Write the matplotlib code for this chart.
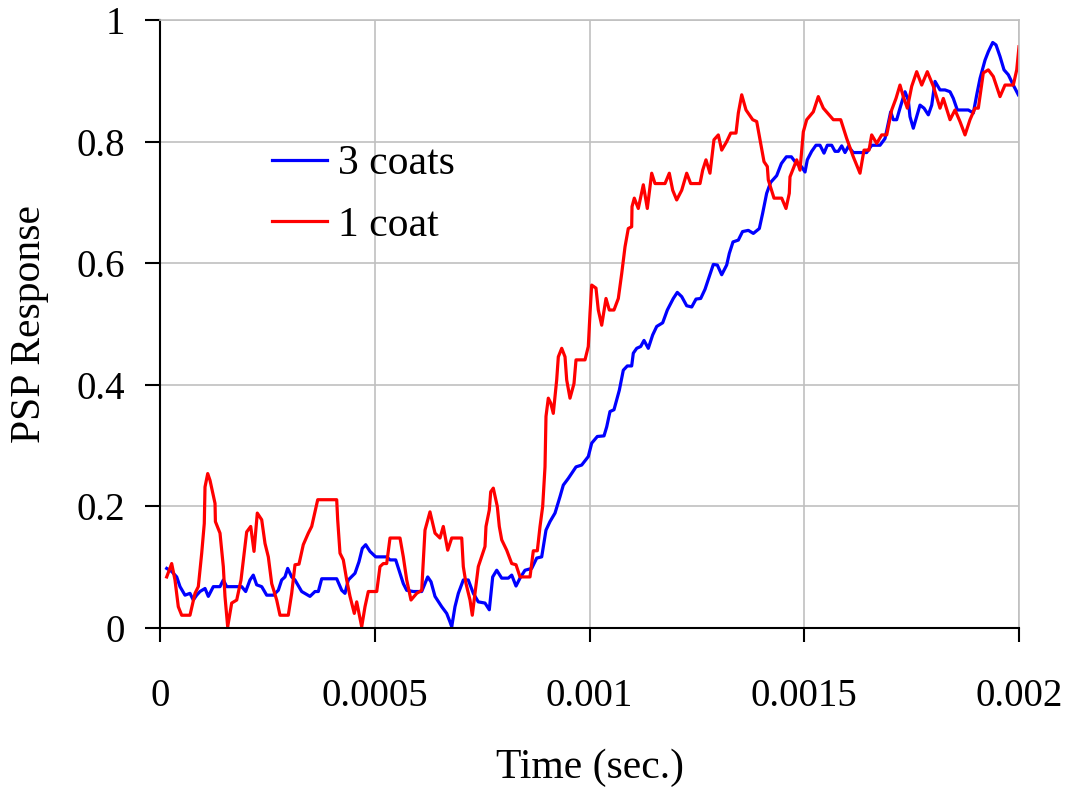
#!/usr/bin/env python3
"""PSP response vs time for 1 coat and 3 coats."""

import matplotlib
matplotlib.use("Agg")
import matplotlib.pyplot as plt
import numpy as np

# --- data (time in microseconds) ---
t_3coats_us = [
    15.6, 27.2, 38.9, 46.6, 58.2, 69.8, 77.5, 85.4, 93.1, 104.8, 112.5, 124.1,
    139.7, 147.4, 155.3, 190.2, 199.5, 209.5, 217.2, 225.1, 236.8, 248.4, 263.8,
    275.4, 283.3, 291.0, 297.3, 306.6, 314.3, 329.9, 349.2, 360.9, 368.6, 376.5,
    411.4, 423.1, 430.7, 438.4, 454.0, 463.3, 471.0, 478.9, 488.9, 502.2, 527.8,
    535.5, 548.8, 556.5, 566.5, 574.4, 589.8, 609.3, 617.0, 623.3, 631.0, 640.3,
    655.9, 667.5, 675.2, 679.2, 686.8, 694.6, 706.2, 717.8, 729.5, 741.1, 756.7,
    766.7, 774.6, 784.0, 795.6, 811.0, 818.9, 828.9, 838.2, 849.8, 865.4, 877.1,
    888.7, 898.7, 908.0, 919.7, 931.3, 939.0, 950.6, 968.6, 981.8, 997.2, 1005.1,
    1018.2, 1033.8, 1040.1, 1047.7, 1057.0, 1063.3, 1069.4, 1078.7, 1088.0,
    1098.2, 1102.0, 1109.9, 1119.2, 1126.9, 1136.9, 1147.1, 1156.5, 1170.4,
    1181.2, 1195.1, 1204.4, 1214.7, 1226.3, 1238.0, 1248.0, 1258.9, 1268.9,
    1278.9, 1288.3, 1297.6, 1307.8, 1319.4, 1325.5, 1334.1, 1346.5, 1356.3,
    1369.8, 1381.5, 1395.4, 1403.1, 1412.5, 1421.8, 1435.8, 1446.8, 1458.4,
    1470.0, 1481.7, 1493.3, 1501.8, 1507.1, 1517.3, 1527.3, 1536.7, 1546.0,
    1553.7, 1563.9, 1571.6, 1579.3, 1587.2, 1594.9, 1602.6, 1614.2, 1645.3,
    1657.0, 1676.4, 1688.0, 1695.7, 1701.3, 1707.3, 1715.2, 1722.9, 1734.6,
    1742.3, 1746.2, 1753.9, 1761.8, 1769.5, 1778.8, 1788.9, 1796.8, 1804.5,
    1816.1, 1827.7, 1839.4, 1847.1, 1856.4, 1882.0, 1893.7, 1901.6, 1909.3,
    1920.9, 1928.6, 1938.8, 1946.5, 1955.8, 1965.1, 1975.1, 1986.7, 1998.4,
]
psp_3coats = [
    0.098, 0.093, 0.084, 0.068, 0.054, 0.057, 0.046, 0.054, 0.060, 0.065, 0.052,
    0.068, 0.068, 0.079, 0.068, 0.068, 0.060, 0.079, 0.087, 0.071, 0.068, 0.054,
    0.054, 0.062, 0.079, 0.084, 0.098, 0.084, 0.079, 0.060, 0.052, 0.060, 0.060,
    0.081, 0.081, 0.062, 0.057, 0.079, 0.090, 0.109, 0.131, 0.137, 0.126, 0.117,
    0.117, 0.112, 0.112, 0.095, 0.073, 0.062, 0.060, 0.060, 0.073, 0.084, 0.076,
    0.052, 0.035, 0.024, 0.010, 0.002, 0.035, 0.057, 0.079, 0.079, 0.057, 0.043,
    0.041, 0.030, 0.084, 0.095, 0.082, 0.082, 0.087, 0.069, 0.082, 0.095, 0.098,
    0.115, 0.117, 0.161, 0.175, 0.189, 0.216, 0.235, 0.246, 0.265, 0.268, 0.282,
    0.304, 0.315, 0.316, 0.331, 0.356, 0.359, 0.375, 0.391, 0.424, 0.431, 0.431,
    0.452, 0.460, 0.463, 0.473, 0.460, 0.482, 0.496, 0.502, 0.523, 0.542, 0.552,
    0.545, 0.530, 0.528, 0.541, 0.542, 0.557, 0.578, 0.598, 0.597, 0.581, 0.597,
    0.616, 0.635, 0.638, 0.652, 0.654, 0.649, 0.657, 0.682, 0.715, 0.733, 0.744,
    0.764, 0.775, 0.775, 0.764, 0.759, 0.750, 0.770, 0.784, 0.794, 0.794, 0.781,
    0.794, 0.794, 0.784, 0.784, 0.793, 0.782, 0.792, 0.782, 0.782, 0.794, 0.794,
    0.805, 0.830, 0.849, 0.836, 0.836, 0.855, 0.882, 0.868, 0.841, 0.822, 0.841,
    0.860, 0.855, 0.844, 0.860, 0.899, 0.885, 0.885, 0.882, 0.871, 0.852, 0.852,
    0.847, 0.877, 0.904, 0.934, 0.948, 0.963, 0.959, 0.940, 0.918, 0.910, 0.893,
    0.877,
]

t_1coat_us = [
    15.6, 27.2, 34.9, 42.6, 50.5, 69.8, 81.5, 89.2, 97.1, 103.1, 104.8, 111.1,
    116.4, 128.1, 129.0, 139.7, 147.4, 151.3, 157.6, 166.9, 178.6, 188.6, 197.9,
    201.8, 211.2, 218.9, 226.5, 236.8, 244.5, 252.2, 260.1, 271.7, 279.4, 298.7,
    306.6, 314.3, 323.6, 333.6, 345.3, 353.2, 359.3, 367.2, 411.4, 413.7, 419.1,
    426.8, 434.7, 442.4, 452.4, 458.0, 469.6, 477.3, 485.0, 504.6, 512.2, 519.9,
    527.8, 535.5, 558.8, 566.5, 574.4, 584.4, 597.7, 609.3, 617.0, 628.6, 640.3,
    651.9, 659.6, 669.9, 679.2, 702.5, 706.2, 712.5, 721.8, 727.1, 733.4, 741.1,
    756.7, 759.0, 766.7, 770.0, 776.0, 785.3, 790.0, 795.6, 807.2, 818.9, 828.9,
    838.2, 861.5, 869.2, 878.5, 884.8, 891.0, 896.4, 898.7, 904.1, 909.7, 915.7,
    923.6, 927.4, 935.3, 943.0, 946.9, 954.6, 963.9, 968.6, 989.5, 997.2, 1001.2,
    1005.1, 1015.1, 1020.5, 1028.4, 1038.4, 1046.1, 1057.0, 1067.1, 1075.0,
    1082.7, 1090.3, 1098.2, 1099.0, 1104.3, 1113.6, 1125.3, 1134.6, 1144.8,
    1152.5, 1175.8, 1185.8, 1193.7, 1203.0, 1214.7, 1226.3, 1235.6, 1257.3,
    1263.5, 1271.2, 1280.5, 1289.8, 1299.9, 1307.8, 1319.4, 1328.8, 1341.1,
    1346.5, 1354.4, 1364.4, 1380.0, 1389.3, 1397.0, 1406.3, 1414.0, 1416.3,
    1429.6, 1447.5, 1457.5, 1465.2, 1466.8, 1482.4, 1490.1, 1497.8, 1505.7,
    1521.1, 1532.7, 1544.4, 1567.7, 1584.9, 1598.9, 1614.2, 1629.8, 1639.1,
    1650.8, 1657.0, 1668.7, 1680.3, 1692.0, 1703.6, 1713.6, 1722.9, 1730.6,
    1740.0, 1750.2, 1761.8, 1773.5, 1786.5, 1800.5, 1816.1, 1823.8, 1839.4,
    1851.0, 1862.6, 1874.3, 1885.9, 1897.6, 1905.3, 1916.9, 1928.6, 1940.2,
    1955.8, 1967.4, 1986.7, 1994.7, 2000.0,
]
psp_1coat = [
    0.084, 0.106, 0.079, 0.035, 0.021, 0.021, 0.057, 0.068, 0.123, 0.172, 0.232,
    0.254, 0.243, 0.205, 0.175, 0.156, 0.101, 0.052, 0.002, 0.041, 0.046, 0.079,
    0.134, 0.158, 0.167, 0.126, 0.189, 0.178, 0.139, 0.117, 0.073, 0.046, 0.021,
    0.021, 0.057, 0.104, 0.105, 0.137, 0.156, 0.167, 0.186, 0.211, 0.211, 0.178,
    0.123, 0.112, 0.079, 0.052, 0.024, 0.043, 0.002, 0.035, 0.060, 0.060, 0.101,
    0.106, 0.106, 0.148, 0.148, 0.117, 0.079, 0.046, 0.057, 0.062, 0.161, 0.191,
    0.156, 0.148, 0.167, 0.128, 0.148, 0.148, 0.101, 0.073, 0.046, 0.021, 0.057,
    0.101, 0.134, 0.167, 0.194, 0.224, 0.230, 0.200, 0.167, 0.145, 0.128, 0.106,
    0.104, 0.084, 0.084, 0.127, 0.127, 0.167, 0.200, 0.265, 0.348, 0.378, 0.370,
    0.353, 0.408, 0.446, 0.460, 0.446, 0.408, 0.378, 0.402, 0.441, 0.441, 0.463,
    0.518, 0.564, 0.559, 0.523, 0.498, 0.542, 0.523, 0.523, 0.542, 0.583, 0.627,
    0.657, 0.660, 0.693, 0.707, 0.690, 0.729, 0.690, 0.748, 0.731, 0.731, 0.748,
    0.720, 0.704, 0.720, 0.748, 0.731, 0.731, 0.753, 0.770, 0.748, 0.803, 0.811,
    0.786, 0.800, 0.814, 0.814, 0.847, 0.877, 0.852, 0.836, 0.833, 0.803, 0.767,
    0.759, 0.737, 0.707, 0.707, 0.690, 0.715, 0.742, 0.770, 0.753, 0.816, 0.836,
    0.849, 0.874, 0.855, 0.836, 0.836, 0.805, 0.775, 0.748, 0.786, 0.786, 0.811,
    0.797, 0.811, 0.811, 0.852, 0.871, 0.893, 0.874, 0.855, 0.891, 0.915, 0.893,
    0.915, 0.891, 0.855, 0.871, 0.836, 0.852, 0.833, 0.811, 0.836, 0.855, 0.855,
    0.913, 0.918, 0.907, 0.874, 0.893, 0.893, 0.918, 0.956,
]

x_ticks = [0, 0.0005, 0.001, 0.0015, 0.002]
x_tick_labels = ["0", "0.0005", "0.001", "0.0015", "0.002"]
y_ticks = [0, 0.2, 0.4, 0.6, 0.8, 1.0]
y_tick_labels = ["0", "0.2", "0.4", "0.6", "0.8", "1"]

plt.rcParams["font.family"] = ["Liberation Serif", "DejaVu Serif"]
FS_TICK = 28
FS_LABEL = 30

fig = plt.figure(figsize=(10.66, 7.87), dpi=100)
ax = fig.add_axes([160 / 1066, 1 - 628 / 787, 859 / 1066, 608 / 787])

ax.plot(np.array(t_3coats_us) * 1e-6, psp_3coats, color="#0000ff", lw=2.3,
        label="3 coats", solid_joinstyle="round")
ax.plot(np.array(t_1coat_us) * 1e-6, psp_1coat, color="#ff0000", lw=2.3,
        label="1 coat", solid_joinstyle="round")

ax.set_xlim(0, 0.002)
ax.set_ylim(0, 1)
ax.set_xticks(x_ticks)
ax.set_xticklabels(x_tick_labels)
ax.set_yticks(y_ticks)
ax.set_yticklabels(y_tick_labels)
ax.tick_params(axis="x", direction="out", length=10, width=1.5, labelsize=FS_TICK, pad=26)
ax.tick_params(axis="y", direction="out", length=11, width=1.5, labelsize=FS_TICK, pad=14)

ax.grid(True, color="#c0c0c0", lw=1.2)
ax.set_axisbelow(True)
for side in ("left", "bottom"):
    ax.spines[side].set_color("black")
    ax.spines[side].set_linewidth(1.5)
for side in ("top", "right"):
    ax.spines[side].set_color("#c0c0c0")
    ax.spines[side].set_linewidth(1.2)

ax.set_xlabel("Time (sec.)", fontsize=FS_LABEL, labelpad=24)
ax.set_ylabel("PSP Response", fontsize=FS_LABEL, labelpad=20)

ax.legend(loc="upper left", bbox_to_anchor=(272 / 1066, 1 - 145 / 787),
          bbox_transform=fig.transFigure, frameon=False, fontsize=FS_LABEL,
          handlelength=1.32, handletextpad=0.27, labelspacing=0.55, borderpad=0,
          borderaxespad=0)

fig.savefig("out.png", dpi=100)
